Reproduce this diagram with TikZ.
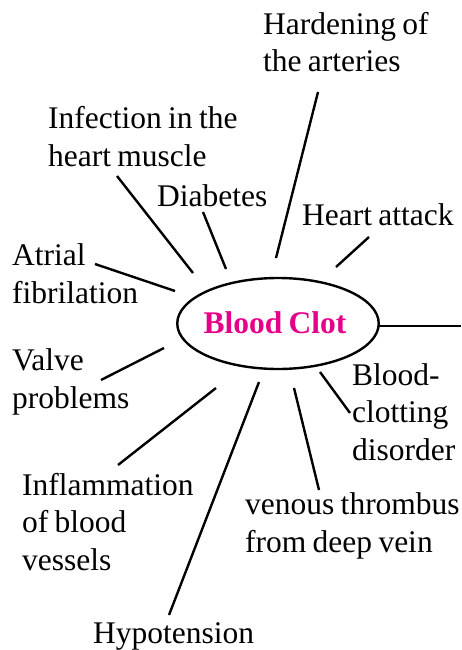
\documentclass[tikz,border=0pt]{standalone}
\usepackage{fontspec}
\setmainfont{Liberation Serif}[WordSpace=0.8]
\usetikzlibrary{shapes.geometric}
\definecolor{clotpink}{RGB}{230,0,137}
\tikzset{
  lbl/.style={anchor=base west, inner sep=0pt, align=left, font=\fontsize{31.5}{37.5}\selectfont},
  spoke/.style={line width=2.4pt},
  ctr/.style={ellipse, draw, line width=2.4pt, minimum width=201.5pt, minimum height=91pt, inner sep=0pt}
}
\begin{document}
\begin{tikzpicture}[x=1pt,y=-1pt]
\useasboundingbox (0,0) rectangle (461,650);
% centre
\node[ctr] (clot) at (278,323.5) {};
\node[anchor=base, inner sep=0pt, text=clotpink, font=\bfseries\fontsize{31.5}{37}\selectfont] (clottext) at (275,333) {Blood Clot};
% labels (anchored at the baseline of their last line)
\node[lbl] (hard) at (263,72) {Hardening of\\the arteries};
\node[lbl] (infect) at (48,166) {Infection in the\\heart muscle};
\node[lbl] (diab) at (157,206) {Diabetes};
\node[lbl] (heart) at (302,225) {Heart attack};
\node[lbl] (atrial) at (12,303) {Atrial\\fibrilation};
\node[lbl] (valve) at (12,408) {Valve\\problems};
\node[lbl] (bcd) at (352,460) {Blood-\\clotting\\disorder};
\node[lbl] (inflam) at (22,570) {Inflammation\\of blood\\vessels};
\node[lbl] (venous) at (245,552) {venous thrombus\\from deep vein};
\node[lbl] (hypo) at (93,643) {Hypotension};
% connector end points
\coordinate (h1) at (318,92);  \coordinate (h2) at (276,258);
\coordinate (i1) at (117,176); \coordinate (i2) at (193,273);
\coordinate (d1) at (203,212); \coordinate (d2) at (226,269);
\coordinate (a1) at (369,237); \coordinate (a2) at (336,267);
\coordinate (t1) at (95,264);  \coordinate (t2) at (175,291);
\coordinate (v1) at (164,348); \coordinate (v2) at (101,380);
\coordinate (f1) at (216,388); \coordinate (f2) at (118,465);
\coordinate (p1) at (259,382); \coordinate (p2) at (169,615);
\coordinate (n1) at (294,388); \coordinate (n2) at (319,490);
\coordinate (b1) at (320,372); \coordinate (b2) at (350,413);
\coordinate (r1) at (379,326); \coordinate (r2) at (461,326);
% connectors
\draw[spoke] (h1) -- (h2);
\draw[spoke] (i1) -- (i2);
\draw[spoke] (d1) -- (d2);
\draw[spoke] (a1) -- (a2);
\draw[spoke] (t1) -- (t2);
\draw[spoke] (v1) -- (v2);
\draw[spoke] (f1) -- (f2);
\draw[spoke] (p1) -- (p2);
\draw[spoke] (n1) -- (n2);
\draw[spoke] (b1) -- (b2);
\draw[spoke] (r1) -- (r2);
\end{tikzpicture}
\end{document}
